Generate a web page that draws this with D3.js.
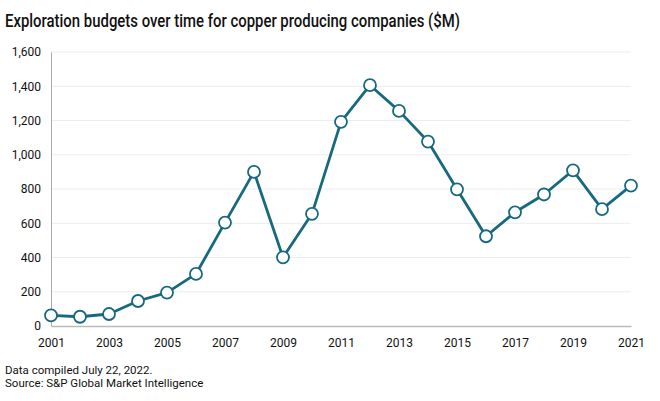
<!DOCTYPE html>
<html>
<head>
<meta charset="utf-8">
<script src="https://cdn.jsdelivr.net/npm/d3@7"></script>
<style>
html,body{margin:0;padding:0;background:#fff;}
svg{display:block;font-family:Roboto, "Liberation Sans", sans-serif;}
</style>
</head>
<body>
<svg id="chart" width="660" height="401"></svg>
<script>
const years = [2001,2002,2003,2004,2005,2006,2007,2008,2009,2010,2011,2012,2013,2014,2015,2016,2017,2018,2019,2020,2021];
const budgets = [62,54,70,146,195,304,604,900,401,655,1192,1406,1256,1077,798,524,664,768,909,682,820];
const yTicks = [0,200,400,600,800,1000,1200,1400,1600];
const xTicks = [2001,2003,2005,2007,2009,2011,2013,2015,2017,2019,2021];
const title = "Exploration budgets over time for copper producing companies ($M)";
const notes = ["Data compiled July 22, 2022.", "Source: S&P Global Market Intelligence"];

const svg = d3.select("#chart");
const m = {left:51, right:631, top:52, bottom:326};
const x = d3.scaleLinear().domain([2001,2021]).range([m.left, m.right]);
const y = d3.scaleLinear().domain([0,1600]).range([m.bottom, m.top]);
const color = "#17697f";

svg.append("text").attr("x",5).attr("y",27).attr("font-size",19).attr("font-weight",500)
  .attr("fill","#111").attr("textLength",455).attr("lengthAdjust","spacingAndGlyphs").text(title);

// gridlines
svg.append("g").selectAll("line").data(yTicks.filter(d=>d>0)).join("line")
  .attr("x1",m.left).attr("x2",m.right).attr("y1",d=>y(d)).attr("y2",d=>y(d))
  .attr("stroke","#ececec").attr("stroke-width",1);

// y axis
const ya = svg.append("g").attr("transform",`translate(${m.left},0)`)
  .call(d3.axisLeft(y).tickValues(yTicks).tickSize(0).tickPadding(10).tickFormat(d3.format(",")));
ya.select(".domain").attr("stroke","#aaa");
ya.selectAll("text").attr("font-size",12).attr("fill","#111").attr("font-family","Roboto, sans-serif");

// x axis
const xa = svg.append("g").attr("transform",`translate(0,${m.bottom})`)
  .call(d3.axisBottom(x).tickValues(xTicks).tickSize(0).tickPadding(12).tickFormat(d3.format("d")));
xa.select(".domain").attr("stroke","#bbb").attr("stroke-width",1.5);
xa.selectAll("text").attr("font-size",12).attr("fill","#111").attr("font-family","Roboto, sans-serif");

const data = years.map((yr,i)=>({yr, v:budgets[i]}));
svg.append("path").datum(data)
  .attr("d", d3.line().x(d=>x(d.yr)).y(d=>y(d.v)))
  .attr("fill","none").attr("stroke",color).attr("stroke-width",2.8).attr("stroke-linejoin","round");
svg.append("g").selectAll("circle").data(data).join("circle")
  .attr("cx",d=>x(d.yr)).attr("cy",d=>y(d.v)).attr("r",6)
  .attr("fill","#fff").attr("stroke",color).attr("stroke-width",1.8);

svg.append("g").selectAll("text").data(notes).join("text")
  .attr("x",5).attr("y",(d,i)=>374+i*13).attr("font-size",11.5).attr("fill","#111").text(d=>d);
</script>
</body>
</html>
